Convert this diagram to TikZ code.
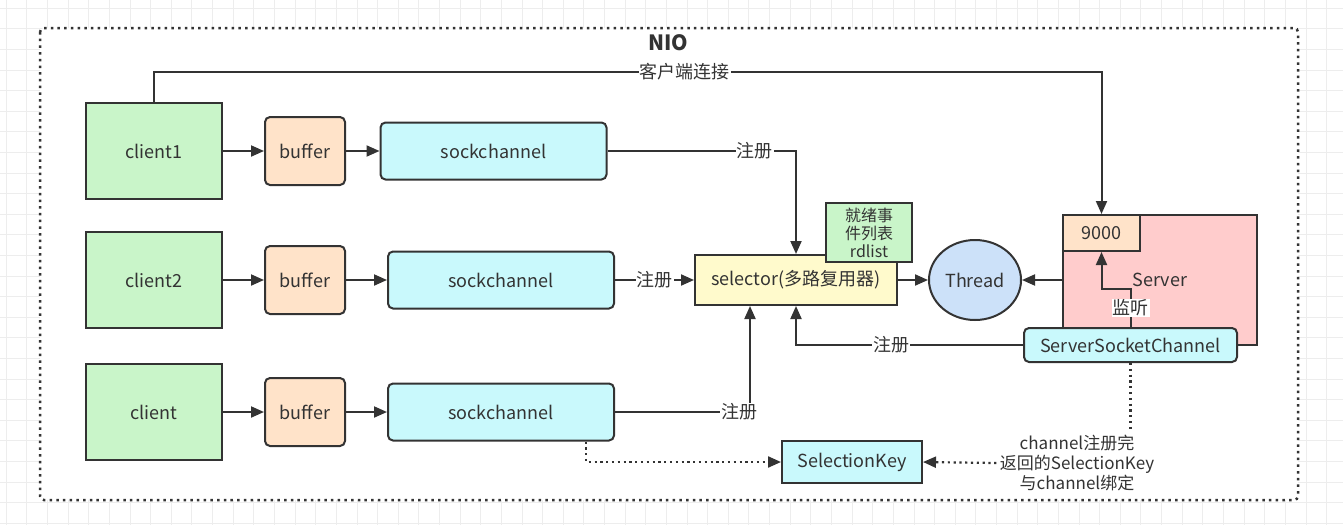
\documentclass[tikz,border=0pt]{standalone}
\usepackage{fontspec}
\setmainfont{Noto Sans CJK SC}
\usepackage{tikz}
\usetikzlibrary{calc,arrows.meta,shapes.geometric}
\definecolor{nio-line}{HTML}{333333}
\definecolor{nio-grid}{HTML}{EDEDED}
\definecolor{nio-green}{HTML}{C9F5C9}
\definecolor{nio-peach}{HTML}{FFE3C9}
\definecolor{nio-cyan}{HTML}{C9F9FC}
\definecolor{nio-yellow}{HTML}{FFFACC}
\definecolor{nio-blue}{HTML}{CCE1F9}
\definecolor{nio-red}{HTML}{FFCCCC}

\begin{document}
\begin{tikzpicture}[x=1pt,y=-1pt,
    font=\fontsize{18}{21}\selectfont, text=nio-line,
    box/.style={draw=nio-line, line width=2pt, align=center, inner sep=0pt},
    clientbox/.style={box, fill=nio-green, minimum width=136pt, minimum height=96pt},
    bufbox/.style={box, fill=nio-peach, rounded corners=5pt, minimum width=80pt, minimum height=68pt},
    chanbox/.style={box, fill=nio-cyan, rounded corners=5pt, minimum width=226pt, minimum height=57pt},
    conn/.style={draw=nio-line, line width=2pt},
    arr/.style={conn, -{Triangle[length=13pt,width=11pt]}},
    dotline/.style={conn, line width=2.2pt, dash pattern=on 2.2pt off 3.6pt},
    dotarr/.style={dotline, -{Triangle[length=13pt,width=11pt]}},
    lbl/.style={fill=white, inner sep=1pt}]
    \useasboundingbox (0,0) rectangle (1343,525);
    \fill[white] (0,0) rectangle (1343,525);
    % background grid
    \foreach \i in {0,...,65} \draw[nio-grid] ({6+20.63*\i},0) -- ({6+20.63*\i},525);
    \foreach \j in {0,...,25} \draw[nio-grid] (0,{8+20.6*\j}) -- (1343,{8+20.6*\j});
    % frame
    \draw[fill=white, draw=nio-line, line width=2.5pt, dash pattern=on 2.5pt off 4.2pt, rounded corners=4pt]
        (40,28) rectangle (1298,500);
    \node[font=\fontsize{21}{24}\selectfont\bfseries] (title) at (668,43) {NIO};

    % clients, buffers, channels
    \node[clientbox] (client1) at (154,151) {client1};
    \node[clientbox] (client2) at (154,280) {client2};
    \node[clientbox] (client3) at (154,412) {client};
    \node[bufbox] (buf1) at (305,151) {buffer};
    \node[bufbox] (buf2) at (305,280) {buffer};
    \node[bufbox] (buf3) at (305,412) {buffer};
    \node[chanbox] (sock1) at (493.5,151) {sockchannel};
    \node[chanbox] (sock2) at (501,280) {sockchannel};
    \node[chanbox] (sock3) at (501,412) {sockchannel};

    % selector and thread
    \node[box, fill=nio-yellow, minimum width=202pt, minimum height=50pt] (selector) at (796,280) {selector(多路复用器)};
    \node[box, fill=nio-green, minimum width=86pt, minimum height=59pt, font=\fontsize{16}{18}\selectfont] (rdlist) at (869,232.5) {就绪事\\件列表\\rdlist};
    \node[box, ellipse, fill=nio-blue, minimum width=92pt, minimum height=80pt] (thread) at (975,280) {Thread};

    % server side
    \node[box, fill=nio-red, minimum width=194pt, minimum height=130pt] (server) at (1160,280) {Server};
    \node[box, fill=nio-peach, minimum width=77pt, minimum height=36pt] (port) at (1101.5,233) {9000};
    \node[box, fill=nio-cyan, rounded corners=5pt, minimum width=213pt, minimum height=34pt] (ssc) at (1130.5,345) {ServerSocketChannel};
    \node[box, fill=nio-cyan, minimum width=140pt, minimum height=42pt] (skey) at (852,462) {SelectionKey};
    \node[align=center, font=\fontsize{17}{20}\selectfont] (note) at (1077,463) {channel注册完\\返回的SelectionKey\\与channel绑定};

    \draw[arr] (client1) -- (buf1);
    \draw[arr] (client2) -- (buf2);
    \draw[arr] (client3) -- (buf3);
    \draw[arr] (buf1) -- (sock1);
    \draw[arr] (buf2) -- (sock2);
    \draw[arr] (buf3) -- (sock3);

    \draw[arr] (client1.north) -- ++(0,-30) -| node[lbl, pos=0.28] {客户端连接} (port.north);
    \draw[arr] (sock1.east) -| node[lbl, pos=0.39] {注册} (selector.north);
    \draw[arr] (sock2) -- node[lbl] {注册} (selector);
    \draw[arr] (sock3.east) -| node[lbl, pos=0.46] {注册} ($(selector.south)+(-46,0)$);
    \draw[arr] (ssc.west) -| node[lbl, pos=0.29] {注册} (selector.south);
    \draw[arr] (selector) -- (thread);
    \draw[arr] (server.west) -- (thread);
    \draw[arr] (ssc.north) -- node[lbl] {监听} ++(0,-38) -| (port.south);

    \draw[dotarr] ($(sock3.south east)+(-29,0)$) |- (skey.west);
    \draw[dotline] (ssc.south) -- (ssc.south |- note.north);
    \draw[dotarr] (note.west) -- (skey.east);
\end{tikzpicture}
\end{document}
